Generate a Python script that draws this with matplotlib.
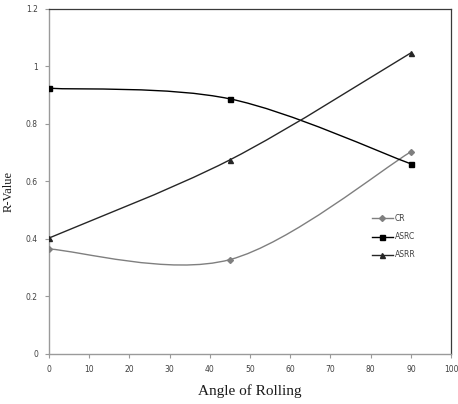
import numpy as np
import matplotlib
matplotlib.use("Agg")
import matplotlib.pyplot as plt
from matplotlib.path import Path
from matplotlib.patches import PathPatch
from matplotlib.lines import Line2D

# R-values measured at three rolling angles
angles = [0, 45, 90]
cr = [0.365, 0.328, 0.703]
asrc = [0.924, 0.887, 0.661]
asrr = [0.403, 0.675, 1.047]

series = [
    ("CR", cr, "#7f7f7f", "D", 3.0),
    ("ASRC", asrc, "#000000", "s", 3.6),
    ("ASRR", asrr, "#262626", "^", 3.6),
]


def smooth_path(xs, ys):
    """Cubic Bezier through the points (Catmull-Rom style, like a spreadsheet's smoothed line)."""
    pts = np.column_stack([xs, ys]).astype(float)
    ext = np.vstack([pts[0], pts, pts[-1]])
    verts = [pts[0]]
    codes = [Path.MOVETO]
    for i in range(1, len(ext) - 2):
        p0, p1, p2, p3 = ext[i - 1], ext[i], ext[i + 1], ext[i + 2]
        c1 = p1 + (p2 - p0) / 6.0
        c2 = p2 - (p3 - p1) / 6.0
        verts += [c1, c2, p2]
        codes += [Path.CURVE4] * 3
    return Path(verts, codes)


fig = plt.figure(figsize=(4.58, 4.04), dpi=100)
ax = fig.add_axes([0.107, 0.124, 0.878, 0.854])

for name, vals, color, marker, ms in series:
    patch = PathPatch(smooth_path(angles, vals), facecolor="none",
                      edgecolor=color, linewidth=1.0, zorder=2)
    ax.add_patch(patch)
    ax.plot(angles, vals, linestyle="none", marker=marker, markersize=ms,
            color=color, zorder=3)

ax.set_xlim(0, 100)
ax.set_ylim(0, 1.2)
ax.set_xticks(np.arange(0, 101, 10))
ax.set_yticks([0, 0.2, 0.4, 0.6, 0.8, 1.0, 1.2])
ax.set_yticklabels(["0", "0.2", "0.4", "0.6", "0.8", "1", "1.2"])

for side in ("left", "bottom"):
    ax.spines[side].set_color("#9a9a9a")
    ax.spines[side].set_linewidth(1.0)
for side in ("top", "right"):
    ax.spines[side].set_color("#3a3a3a")
    ax.spines[side].set_linewidth(0.9)

ax.tick_params(axis="both", direction="out", length=3, width=0.8,
               color="#9a9a9a", labelsize=5.5, labelcolor="#404040", pad=5)

serif = ["Liberation Serif", "DejaVu Serif"]
ax.set_xlabel("Angle of Rolling", family=serif, fontsize=11, color="#1a1a1a", labelpad=7)
ax.set_ylabel("R-Value", family=serif, fontsize=9, color="#1a1a1a")
ax.yaxis.set_label_coords(-0.085, 0.47)

handles = [Line2D([], [], color=c, marker=m, markersize=ms, linewidth=1.0)
           for _, _, c, m, ms in series]
ax.legend(handles, [s[0] for s in series], loc="upper left",
          bbox_to_anchor=(0.785, 0.425), frameon=False, fontsize=5.5,
          handlelength=2.8, handletextpad=0.2, labelspacing=1.2,
          labelcolor="#404040")

fig.savefig("out.png", dpi=100)
